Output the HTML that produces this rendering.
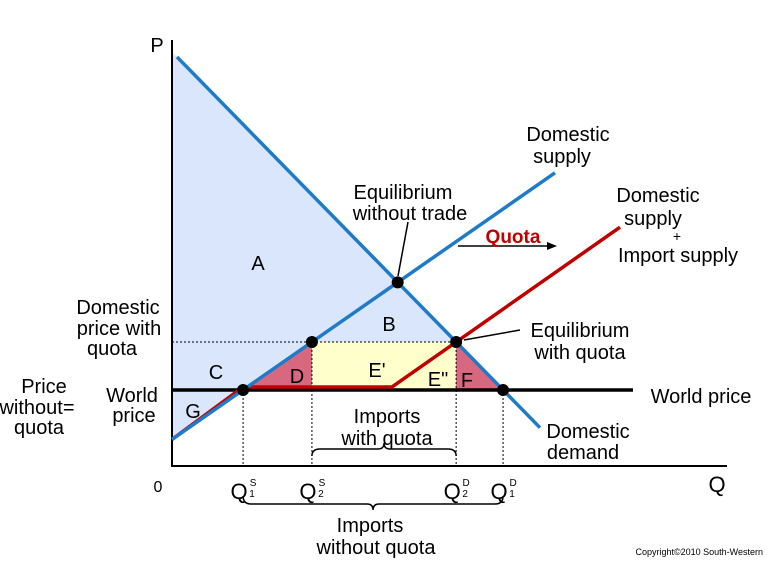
<!DOCTYPE html>
<html><head><meta charset="utf-8"><style>
body{margin:0;background:#fff}
svg text{font-family:"Liberation Sans",sans-serif}
</style></head><body>
<svg width="774" height="562" viewBox="0 0 774 562">
<g id="g"></g>
</svg>
<script>
// data (price/quantity points in chart units)
const demandPts=[[0.5,99.5],[36.8,3.2]];
const supplyPts=[[0,0.15],[38.3,69.4]];
const worldPrice=[13.0];
const quotaPrice=[25.45];
const quotaLabels=["Q1S","Q2S","Q2D","Q1D"];
// axis functions
const X0=172,Y0=440,SX=10,SY=3.85;
const xs=q=>X0+q*SX, ys=p=>Y0-p*SY;
const dem=q=>demandPts[0][1]+(q-demandPts[0][0])*(demandPts[1][1]-demandPts[0][1])/(demandPts[1][0]-demandPts[0][0]);
const demInv=p=>demandPts[0][0]+(p-demandPts[0][1])*(demandPts[1][0]-demandPts[0][0])/(demandPts[1][1]-demandPts[0][1]);
const sup=q=>supplyPts[0][1]+(q-supplyPts[0][0])*(supplyPts[1][1]-supplyPts[0][1])/(supplyPts[1][0]-supplyPts[0][0]);
const supInv=p=>supplyPts[0][0]+(p-supplyPts[0][1])*(supplyPts[1][0]-supplyPts[0][0])/(supplyPts[1][1]-supplyPts[0][1]);
const g=document.getElementById('g');const NS='http://www.w3.org/2000/svg';
function el(t,a,txt){const e=document.createElementNS(NS,t);for(const k in a)e.setAttribute(k,a[k]);if(txt!=null)e.textContent=txt;g.appendChild(e);return e;}
const wp=worldPrice[0],qp=quotaPrice[0];
const q1s=supInv(wp),q2s=supInv(qp),q2d=demInv(qp),q1d=demInv(wp);
const yW=ys(wp),yQ=ys(qp);
let e;
e=el('polygon',{points:`${X0},${ys(dem(0))} ${xs(q2d)},${yQ} ${xs(q2s)},${yQ} ${X0},${ys(sup(0))}`,fill:'#d9e6fb'});


e=el('rect',{x:xs(q2s),y:yQ,width:xs(q2d)-xs(q2s),height:yW-yQ,fill:'#ffffcc'});


e=el('polygon',{points:`${xs(q1s)},${yW} ${xs(q2s)},${yQ} ${xs(q2s)},${yW}`,fill:'#d8687f'});


e=el('polygon',{points:`${xs(q2d)},${yQ} ${xs(q1d)},${yW} ${xs(q2d)},${yW}`,fill:'#d8687f'});


el('line',{x1:X0,y1:yQ,x2:xs(q2d),y2:yQ,stroke:'#000','stroke-dasharray':'2,2'});
[q1s,q2s,q2d,q1d].forEach(q=>{el('line',{x1:xs(q),y1:q===q2s||q===q2d?yQ:yW,x2:xs(q),y2:466,stroke:'#000','stroke-dasharray':'2,2'});});
e=el('path',{d:`M${X0},40 V466 H727`,stroke:'#000','stroke-width':2,fill:'none'});


e=el('line',{x1:X0,y1:yW,x2:633,y2:yW,stroke:'#000','stroke-width':3.5});


// red quota supply
const kink=22, qHi=44.8;
const slope=(yQ-(yW-3))/(xs(q2d)-xs(kink));
e=el('polyline',{points:`${X0},${ys(sup(0))} ${xs(q1s)},${yW-3} ${xs(kink)},${yW-3} ${xs(q2d)},${yQ} ${xs(qHi)},${yQ+slope*(xs(qHi)-xs(q2d))}`,stroke:'#c00000','stroke-width':3.5,fill:'none'});


e=el('line',{x1:xs(demandPts[0][0]),y1:ys(demandPts[0][1]),x2:xs(demandPts[1][0]),y2:ys(demandPts[1][1]),stroke:'#1f7ac8','stroke-width':3.5});


e=el('line',{x1:xs(supplyPts[0][0]),y1:ys(supplyPts[0][1]),x2:xs(supplyPts[1][0]),y2:ys(supplyPts[1][1]),stroke:'#1f7ac8','stroke-width':3.5});


let lo=0,hi=40;for(let i=0;i<50;i++){const m=(lo+hi)/2;if(dem(m)>sup(m))lo=m;else hi=m;}
[[q1s,wp],[q2s,qp],[lo,sup(lo)],[q2d,qp],[q1d,wp]].forEach(p=>{
 e=el('circle',{cx:xs(p[0]),cy:ys(p[1]),r:6,fill:'#000'});
 
 
});
el('line',{x1:408,y1:222,x2:398,y2:276,stroke:'#000','stroke-width':1.5});
el('line',{x1:464,y1:340,x2:520,y2:330,stroke:'#000','stroke-width':1.5});
el('line',{x1:458,y1:246,x2:553,y2:246,stroke:'#000','stroke-width':1.5});
el('path',{d:'M557,246 l-10,-4 v8z',fill:'#000'});
el('path',{d:`M${xs(q2s)},456 q0,-7 8,-7 h${(xs(q2d)-xs(q2s))/2-14} q6,0 6,-6 q0,6 6,6 h${(xs(q2d)-xs(q2s))/2-14} q8,0 8,7`,stroke:'#000','stroke-width':1.5,fill:'none'});
el('path',{d:`M${xs(q1s)},496 q0,8 8,8 h${(xs(q1d)-xs(q1s))/2-14} q6,0 6,6 q0,-6 6,-6 h${(xs(q1d)-xs(q1s))/2-14} q8,0 8,-8`,stroke:'#000','stroke-width':1.5,fill:'none'});
function t(x,y,s,sz,anchor,fill,w){e=el('text',{x,y,'font-size':sz||20,'text-anchor':anchor||'middle',style:'fill:'+(fill||'#000'),'font-weight':w||'normal'},s);return e;}
t(157,52,'P',20);t(158,492,'0',16);t(717,492,'Q',22);
t(258,270,'A');t(389,331,'B');t(216,379,'C');t(297,383,'D');t(377,377,'E\'');t(438,386,'E"');t(467,387,'F');t(193,418,'G');
t(568,141,'Domestic');t(562,163,'supply');
t(403,199,'Equilibrium');t(410,220,'without trade');
t(513,243,'Quota',19,'middle','#c00000','bold');
t(658,202,'Domestic');t(653,225,'supply');t(677,241,'+',14);t(678,262,'Import supply');
t(118,314,'Domestic');t(119,335,'price with');t(112,355,'quota');
t(580,337,'Equilibrium');t(580,359,'with quota');
t(44,393,'Price');t(37,414,'without=');t(39,434,'quota');
t(132,402,'World');t(134,422,'price');
t(701,403,'World price');
t(387,423,'Imports');t(387,445,'with quota');
t(588,438,'Domestic');t(583,459,'demand');
t(370,532,'Imports');t(376,554,'without quota');
t(763,555,'Copyright©2010 South-Western',9,'end');
quotaLabels.forEach((l,i)=>{const q=[q1s,q2s,q2d,q1d][i];
 t(xs(q)-4,499,'Q',22);t(xs(q)+10,486,l[2],10);t(xs(q)+9,497,l[1],10);});
</script>
</body></html>
